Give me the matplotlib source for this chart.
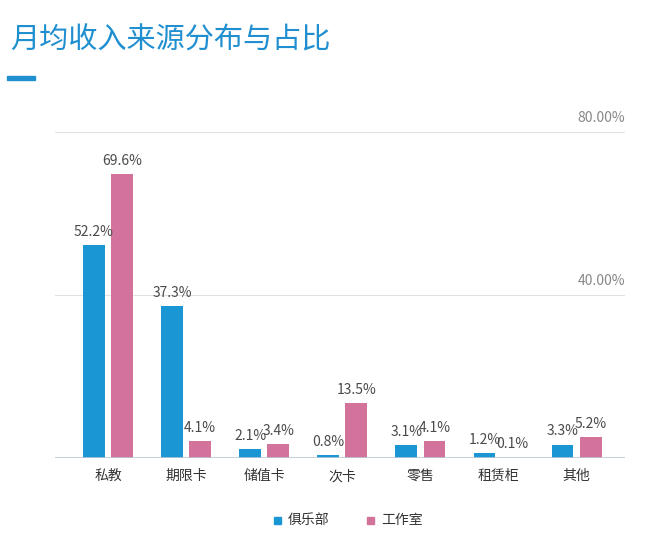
import matplotlib
matplotlib.use("Agg")
import matplotlib.pyplot as plt
import numpy as np
from matplotlib.patches import Rectangle

plt.rcParams['font.family'] = ['Noto Sans CJK SC', 'DejaVu Sans']

categories = ["私教", "期限卡", "储值卡", "次卡", "零售", "租赁柜", "其他"]
club = [52.2, 37.3, 2.1, 0.8, 3.1, 1.2, 3.3]
studio = [69.6, 4.1, 3.4, 13.5, 4.1, 0.1, 5.2]
series_names = ["俱乐部", "工作室"]
yticks = [40, 80]

BLUE = "#1a96d4"
PINK = "#d3729b"
W, H = 652, 541

fig = plt.figure(figsize=(W / 100, H / 100), dpi=100)
ax = fig.add_axes([55 / W, 1 - 458 / H, (625 - 55) / W, (458 - 132) / H])

x = np.arange(len(categories))
bw = 0.28
off = 0.18
ax.bar(x - off, club, bw, color=BLUE, zorder=3)
ax.bar(x + off, studio, bw, color=PINK, zorder=3)

for xi, v in zip(x, club):
    ax.text(xi - off, v + 1.5, f"{v}%", ha="center", va="bottom", fontsize=10, color="#4a4a4a")
for xi, v in zip(x, studio):
    ax.text(xi + off, v + 1.5, f"{v}%", ha="center", va="bottom", fontsize=10, color="#4a4a4a")

ax.set_xlim(-0.68, 6.62)
ax.set_ylim(0, 80)
for t in yticks:
    ax.axhline(t, color="#e2e2e2", lw=0.8, zorder=1)
    ax.text(1.0, t + 1.6, f"{t:.2f}%", transform=ax.get_yaxis_transform(), ha="right", va="bottom",
            fontsize=10, color="#888888")
ax.axhline(0, color="#b9c9d4", lw=1.2, zorder=4)

ax.set_xticks(x)
ax.set_xticklabels(categories, fontsize=10, color="#333333")
ax.tick_params(axis="x", length=0, pad=8)
ax.set_yticks([])
for s in ax.spines.values():
    s.set_visible(False)

# Title and decoration
fig.text(10 / W, 1 - 40 / H, "月均收入来源分布与占比", fontsize=21, color="#1f8fd0", ha="left", va="center",
         fontweight="medium")
fig.add_artist(Rectangle((7 / W, 1 - 80 / H), 28 / W, 4 / H, transform=fig.transFigure, color="#1f8fd0"))

# Legend
fig.add_artist(Rectangle((274 / W, 1 - 524 / H), 7 / W, 7 / H, transform=fig.transFigure, color=BLUE))
fig.text(288 / W, 1 - 520 / H, series_names[0], fontsize=10, color="#333333", ha="left", va="center")
fig.add_artist(Rectangle((367 / W, 1 - 524 / H), 7 / W, 7 / H, transform=fig.transFigure, color=PINK))
fig.text(381 / W, 1 - 520 / H, series_names[1], fontsize=10, color="#333333", ha="left", va="center")

fig.savefig("out.png", dpi=100)
